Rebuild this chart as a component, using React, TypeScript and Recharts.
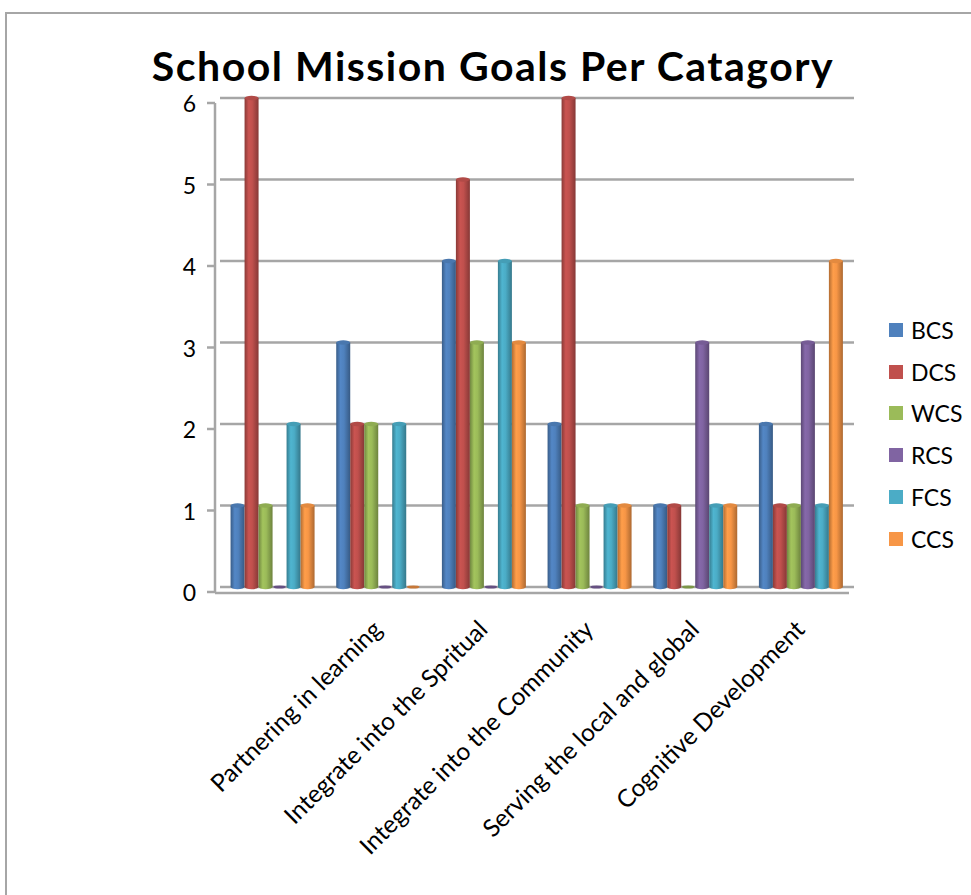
import React from 'react';
import { BarChart, Bar, XAxis, YAxis, CartesianGrid, Legend } from 'recharts';

// goal categories (the first one has no label on the axis)
const categories = [
  '',
  'Partnering in learning',
  'Integrate into the Spritual',
  'Integrate into the Community',
  'Serving the local and global',
  'Cognitive Development',
];

const bcs = [1, 3, 4, 2, 1, 2];
const dcs = [6, 2, 5, 6, 1, 1];
const wcs = [1, 2, 3, 1, 0, 1];
const rcs = [0, 0, 0, 0, 3, 3];
const fcs = [2, 2, 4, 1, 1, 1];
const ccs = [1, 0, 3, 1, 1, 4];

const schools = ['BCS', 'DCS', 'WCS', 'RCS', 'FCS', 'CCS'];
const schoolValues = [bcs, dcs, wcs, rcs, fcs, ccs];
const schoolColors = ['#4f81bd', '#c0504d', '#9bbb59', '#8064a2', '#4bacc6', '#f79646'];

const yTicks = [0, 1, 2, 3, 4, 5, 6];
const edgeTicks = [0, 1, 2, 3, 4, 5, 6];

const data = categories.map((name, i) => {
  const row: Record<string, string | number> = { name, edge: i };
  schools.forEach((s, k) => {
    row[s] = schoolValues[k][i];
  });
  return row;
});

const FONT = 'Lato, "Open Sans", sans-serif';
const GRID = '#a6a6a6';

const shade = (hex: string, f: number) => {
  const n = parseInt(hex.slice(1), 16);
  const ch = (v: number) => Math.max(0, Math.min(255, Math.round(v * f)));
  const r = ch((n >> 16) & 255);
  const g = ch((n >> 8) & 255);
  const b = ch(n & 255);
  return `rgb(${r},${g},${b})`;
};

// bar drawn as a shaded cylinder with an elliptical cap
const CylinderBar = (props: any) => {
  const { x, y, width, height, fill, dataKey } = props;
  const rx = width / 2;
  const ry = Math.max(1.5, width * 0.16);
  if (!height || height <= 0.5) {
    return <ellipse cx={x + rx} cy={y} rx={rx * 0.9} ry={1.6} fill={shade(fill, 0.8)} />;
  }
  const bottom = y + height;
  return (
    <g>
      <path
        d={`M${x},${y} L${x},${bottom} A${rx},${ry} 0 0 0 ${x + width},${bottom} L${x + width},${y} Z`}
        fill={`url(#cyl-${dataKey})`}
      />
      <ellipse cx={x + rx} cy={y} rx={rx} ry={ry} fill={shade(fill, 0.92)} />
    </g>
  );
};

const CategoryTick = (props: any) => {
  const { x, y, payload } = props;
  const ax = x + 5;
  const ay = y + 36;
  return (
    <text
      x={ax}
      y={ay}
      transform={`rotate(-45, ${ax}, ${ay})`}
      textAnchor="end"
      fontSize={24.5}
      fontFamily={FONT}
      fill="#000"
    >
      {payload.value}
    </text>
  );
};

const ValueTick = (props: any) => {
  const { x, y, payload } = props;
  return (
    <text x={x - 14} y={y + 14} textAnchor="end" fontSize={23} fontFamily={FONT} fill="#000">
      {payload.value}
    </text>
  );
};

const renderLegend = (props: any) => {
  const items = [...(props.payload || [])].sort(
    (a: any, b: any) => schools.indexOf(a.value) - schools.indexOf(b.value)
  );
  return (
    <div style={{ fontFamily: FONT, fontSize: 23, color: '#000' }}>
      {items.map((entry: any) => (
        <div key={entry.value} style={{ display: 'flex', alignItems: 'center', height: 41.8 }}>
          <span
            style={{ width: 14, height: 14, background: entry.color, marginRight: 8, display: 'inline-block' }}
          />
          <span>{entry.value}</span>
        </div>
      ))}
    </div>
  );
};

export default function App() {
  return (
    <div style={{ position: 'absolute', left: 0, top: 0, width: 971, height: 895, background: '#fff', overflow: 'hidden' }}>
      <div
        style={{
          position: 'absolute',
          left: 5,
          top: 12,
          width: 980,
          height: 900,
          border: '2px solid #a6a6a6',
          boxSizing: 'border-box',
        }}
      />
      <div
        style={{
          position: 'absolute',
          left: 0,
          top: 45,
          width: 986,
          textAlign: 'center',
          fontFamily: FONT,
          fontWeight: 700,
          fontSize: 41,
          letterSpacing: 1.5,
          lineHeight: '41px',
          color: '#000',
          whiteSpace: 'nowrap',
        }}
      >
        School Mission Goals Per Catagory
      </div>
      <BarChart
        width={971}
        height={895}
        data={data}
        margin={{ top: 98, right: 117, bottom: 0, left: 0 }}
        barCategoryGap="10%"
        barGap={0}
        style={{ position: 'absolute', left: 0, top: 0 }}
      >
        <defs>
          {schools.map((s, k) => (
            <linearGradient key={s} id={`cyl-${s}`} x1="0" y1="0" x2="1" y2="0">
              <stop offset="0%" stopColor={shade(schoolColors[k], 0.72)} />
              <stop offset="30%" stopColor={shade(schoolColors[k], 1.05)} />
              <stop offset="55%" stopColor={schoolColors[k]} />
              <stop offset="100%" stopColor={shade(schoolColors[k], 0.7)} />
            </linearGradient>
          ))}
        </defs>
        <CartesianGrid xAxisId="cat" vertical={false} stroke={GRID} strokeWidth={2.5} />
        {/* category labels sit on the back floor edge */}
        <XAxis
          xAxisId="cat"
          dataKey="name"
          interval={0}
          height={6}
          axisLine={false}
          tickLine={false}
          tick={<CategoryTick />}
        />
        {/* front floor edge with category boundary ticks */}
        <XAxis
          xAxisId="edge"
          dataKey="edge"
          type="number"
          domain={[0, 6]}
          ticks={edgeTicks}
          interval={0}
          height={302}
          tick={false}
          axisLine={{ stroke: GRID, strokeWidth: 2.5, transform: 'translate(-5, 0)' }}
          tickLine={{ stroke: GRID, strokeWidth: 2.5, transform: 'translate(-5, 0)' }}
          tickSize={8}
        />
        <YAxis
          width={220}
          domain={[0, 6]}
          ticks={yTicks}
          interval={0}
          axisLine={{ stroke: GRID, strokeWidth: 2.5, transform: 'translate(-5, 5)' }}
          tickLine={{ stroke: GRID, strokeWidth: 2.5, transform: 'translate(-5, 5)' }}
          tickSize={8}
          tick={<ValueTick />}
        />
        {schools.map((s, k) => (
          <Bar
            key={s}
            xAxisId="cat"
            dataKey={s}
            name={s}
            fill={schoolColors[k]}
            shape={<CylinderBar />}
            isAnimationActive={false}
          />
        ))}
        <Legend
          layout="vertical"
          align="center"
          verticalAlign="middle"
          content={renderLegend}
          wrapperStyle={{ left: 889, top: 309, width: 82 }}
        />
      </BarChart>
    </div>
  );
}
